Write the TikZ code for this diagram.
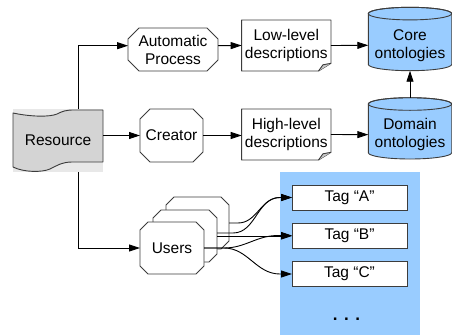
\documentclass[tikz,border=0pt]{standalone}
\usepackage{fontspec}
\setmainfont{Liberation Sans}
\usetikzlibrary{arrows.meta,backgrounds}
\definecolor{skyb}{HTML}{99CCFF}
\definecolor{tapegray}{HTML}{D4D4D4}
\definecolor{bggray}{HTML}{E8E8E8}
\definecolor{foldgray}{HTML}{C8C8C8}
\definecolor{edge}{HTML}{3C3C3C}
\tikzset{
 lbl/.style={inner sep=0pt, outer sep=0pt, align=center, font=\fontsize{15.5pt}{18pt}\selectfont},
 outl/.style={draw=edge, line width=0.9pt, line join=round},
 arr/.style={draw=black, line width=0.9pt, -{Triangle[length=11pt,width=7pt]}},
 tagbox/.style={lbl, draw=edge, fill=white, line width=0.9pt, minimum width=115pt, minimum height=25pt},
}
\newcommand\octshape[2]{%
 \draw[outl, fill=white] ([xshift=#2]#1.north west) -- ([xshift=-#2]#1.north east) -- ([yshift=-#2]#1.north east) -- ([yshift=#2]#1.south east) -- ([xshift=-#2]#1.south east) -- ([xshift=#2]#1.south west) -- ([yshift=#2]#1.south west) -- ([yshift=-#2]#1.north west) -- cycle;}
\newcommand\docshape[1]{%
 \draw[outl, fill=white] (#1.north west) -- (#1.north east) -- ([yshift=7.7pt]#1.south east) -- ([xshift=-12.4pt]#1.south east) -- (#1.south west) -- cycle;
 \draw[outl, fill=foldgray] ([yshift=7.7pt]#1.south east) -- ([xshift=-8pt,yshift=6.2pt]#1.south east) -- ([xshift=-12.4pt]#1.south east);}
\newcommand\cylshape[1]{%
 \draw[outl, fill=skyb] ([yshift=6.3pt]#1.north west) -- ([yshift=6.3pt]#1.south west) arc[start angle=180, end angle=360, x radius=41.7pt, y radius=6.3pt] -- ([yshift=6.3pt]#1.north east) arc[start angle=0, end angle=180, x radius=41.7pt, y radius=6.3pt] -- cycle;
 \draw[outl] ([yshift=6.3pt]#1.north) ellipse[x radius=41.7pt, y radius=6.3pt];}
\begin{document}
\begin{tikzpicture}[x=1pt,y=-1pt]
\useasboundingbox (0,0) rectangle (452,335);
% blue panel
\node[fill=skyb, inner sep=0pt, outer sep=0pt, minimum width=140pt, minimum height=163pt] (panel) at (350,253.5) {};
% nodes
\node[lbl, minimum width=90pt, minimum height=63pt] (res) at (58,140.5) {Resource};
\node[lbl, minimum width=90pt, minimum height=43pt] (ap) at (173,49.5) {Automatic\\Process};
\node[lbl, minimum width=63pt, minimum height=53pt] (cr) at (171.5,135.5) {Creator};
\node[lbl, minimum width=89.3pt, minimum height=51pt] (ll) at (286.3,45.5) {Low-level\\descriptions};
\node[lbl, minimum width=89.3pt, minimum height=51pt] (hl) at (286.3,134.5) {High-level\\descriptions};
\node[lbl, minimum width=83.4pt, minimum height=50.8pt] (core) at (410,45.3) {Core\\ontologies};
\node[lbl, minimum width=83.4pt, minimum height=48.7pt] (dom) at (410,134.65) {Domain\\ontologies};
\node[lbl, minimum width=63pt, minimum height=52pt] (u3) at (197.5,223) {};
\node[lbl, minimum width=64pt, minimum height=52pt] (u2) at (185,236) {};
\node[lbl, minimum width=64pt, minimum height=52pt] (u1) at (172,248) {Users};
\node[tagbox] (tagA) at (349.5,197.5) {Tag “A”};
\node[tagbox] (tagB) at (349.5,235.5) {Tag “B”};
\node[tagbox] (tagC) at (349.5,274) {Tag “C”};
\node[lbl, font=\fontsize{17pt}{18pt}\selectfont] (dots) at (346.5,319) {\textbf{.\hspace{6.5pt}.\hspace{6.5pt}.}};
% shapes behind the texts
\begin{scope}[on background layer]
 \fill[bggray] (res.north west) rectangle (res.south east);
 \draw[outl, fill=tapegray] (13,113) .. controls (32,117) and (50,117) .. (57,114) .. controls (63,111) and (66,110) .. (74,110) -- (103,110) -- (103,162) -- (72,162) .. controls (62,162) and (56,166) .. (50,169) .. controls (42,172.5) and (24,172.5) .. (13,167) -- cycle;
 \octshape{ap}{11pt}
 \octshape{cr}{10pt}
 \octshape{u3}{8pt}
 \octshape{u2}{8pt}
 \octshape{u1}{8pt}
 \docshape{ll}
 \docshape{hl}
 \cylshape{core}
 \cylshape{dom}
\end{scope}
% connectors
\draw[arr] ([xshift=20pt]res.north) |- ([yshift=3.8pt]ap.west);
\draw[arr] ([yshift=5pt]res.east) -- (cr.west);
\draw[arr] ([xshift=20pt]res.south) |- (u1.west);
\draw[arr] ([yshift=3.8pt]ap.east) -- (ll.west);
\draw[arr] (cr.east) -- (cr.east -| hl.west);
\draw[arr] (ll.east) -- (core.west);
\draw[arr] (hl.east) -- (dom.west);
\draw[arr] ([yshift=12.6pt]dom.north) -- (core.south);
\draw[arr] (u3.east) -- ++(9,0) to[out=0,in=180] ([xshift=-12pt]tagA.west) -- (tagA.west);
\draw[arr] ([yshift=3pt]u2.east) -- ++(16,0) to[out=0,in=180] ([xshift=-12pt]tagA.west) -- (tagA.west);
\draw[arr] (u2.east) -- (u2.east -| tagB.west);
\draw[arr] (u1.east) -- ++(20,0) to[out=0,in=180] ([xshift=-14pt]tagB.west) -- (tagB.west);
\draw[arr] (u1.east) -- ++(20,0) to[out=0,in=180] ([xshift=-12pt]tagC.west) -- (tagC.west);
\end{tikzpicture}
\end{document}
